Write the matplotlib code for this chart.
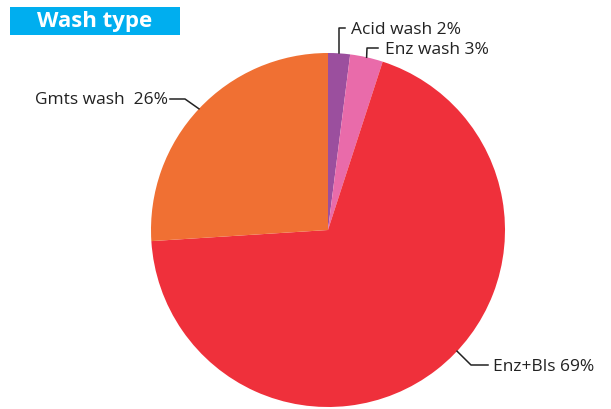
import numpy as np
import matplotlib
matplotlib.use("Agg")
from matplotlib import pyplot as plt
from matplotlib.patches import Rectangle

# data
labels = ["Acid wash", "Enz wash", "Enz+Bls", "Gmts wash"]
shares = [2, 3, 69, 26]
colors = ["#9b4f9e", "#e96baa", "#ef303b", "#f07033"]
label_text = ["Acid wash 2%", "Enz wash 3%", "Enz+Bls 69%", "Gmts wash  26%"]

plt.rcParams['font.family'] = ['Open Sans', 'DejaVu Sans']

fig = plt.figure(figsize=(6.11, 4.10), dpi=100)
ax = fig.add_axes([0, 0, 1, 1])

cx, cy, r = 328, 231, 177
# y axis is flipped, so counterclock=True here draws clockwise on screen
wedges, _ = ax.pie(shares, colors=colors, startangle=-90, counterclock=True,
                   center=(cx, cy), radius=r, frame=True,
                   wedgeprops=dict(linewidth=0, zorder=2))
ax.set_xlim(0, 611)
ax.set_ylim(410, 0)  # pixel coords, y down
ax.axis('off')

# leader lines: (angle offset, elbow, end, text pos, ha)
layout = [
    [0, (None, 29), (345, 29), (351, 30), 'left'],
    [0, (367, 49), (378, 49), (385, 50), 'left'],
    [-9, (471, 366), (488, 366), (493, 367), 'left'],
    [0, (185, 100), (170, 100), (168, 100), 'right'],
]
for w, lay, txt in zip(wedges, layout, label_text):
    off, elbow, end, tpos, ha = lay
    ang = np.deg2rad((w.theta1 + w.theta2) / 2 + off)
    px = cx + r * np.cos(ang)
    py = cy + r * np.sin(ang)
    ex = px if elbow[0] is None else elbow[0]
    ey = elbow[1]
    ax.plot([px, ex, end[0]], [py, ey, end[1]], color='#222222', lw=1.1, zorder=3)
    ax.text(tpos[0], tpos[1], txt, ha=ha, va='center', fontsize=12.5, color='#222222')

# title box
ax.add_patch(Rectangle((10, 8), 170, 28, facecolor='#00aeef', edgecolor='none', zorder=3))
ax.text(95, 21, "Wash type", color='white', fontsize=16, fontweight='bold',
        ha='center', va='center', zorder=4)

fig.savefig("out.png", dpi=100)
